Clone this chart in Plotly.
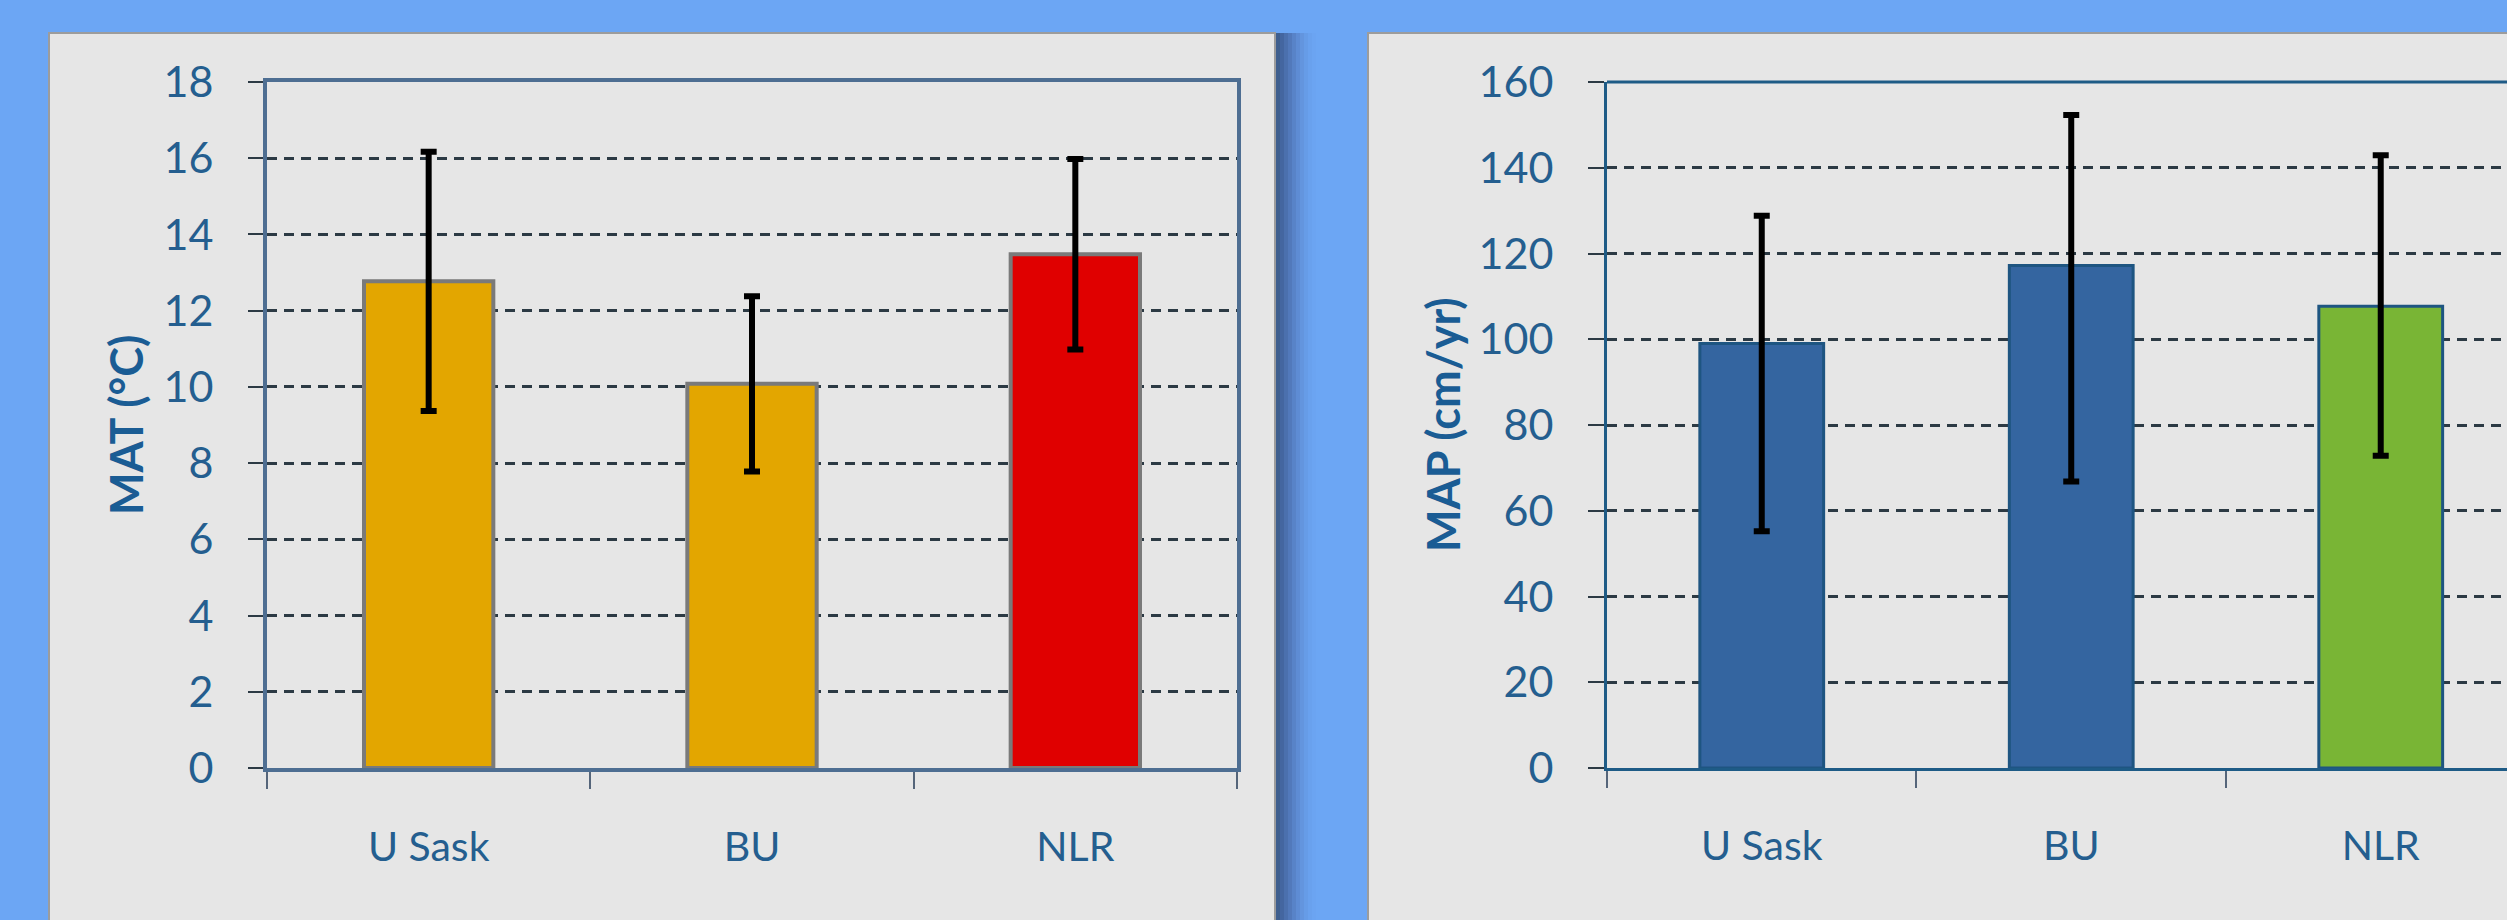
import plotly.graph_objects as go

# Site means with error ranges
sites = ["U Sask", "BU", "NLR"]
mat_mean = [12.77, 10.08, 13.48]
mat_err = [3.4, 2.3, 2.5]
map_mean = [99.0, 117.2, 107.7]
map_err_plus = [29.8, 35.1, 35.2]
map_err_minus = [43.8, 50.4, 34.9]

mat_colors = ["#E3A600", "#E3A600", "#E00000"]
map_colors = ["#3465A0", "#3465A0", "#79B535"]

W, H = 2507, 920
BG = "#6CA6F4"
PANEL = "#E6E6E6"
FONT = "Lato, Open Sans, sans-serif"
YTICK_FONT = dict(family=FONT, size=43, color="#245E8F")
XTICK_FONT = dict(family=FONT, size=41, color="#245E8F")
GRID = "#2C3A44"


def px_x(v):
    return v / W


def px_y(v):
    return 1 - v / H


fig = go.Figure()

fig.add_trace(go.Bar(
    x=sites, y=mat_mean, width=0.4,
    marker=dict(color=mat_colors, line=dict(color="#7A7A7A", width=4)),
    error_y=dict(type="data", array=mat_err, color="black", thickness=6, width=8),
    xaxis="x", yaxis="y", showlegend=False,
))
fig.add_trace(go.Bar(
    x=sites, y=map_mean, width=0.4,
    marker=dict(color=map_colors, line=dict(color="#1E5581", width=3)),
    error_y=dict(type="data", symmetric=False, array=map_err_plus,
                 arrayminus=map_err_minus, color="black", thickness=6, width=8),
    xaxis="x2", yaxis="y2", showlegend=False,
))

shapes = []
# panel shadow to the right of the first panel
shadow = ["#3E5E8E", "#4466A0", "#4B70AE", "#5279BB", "#5883C8", "#5E8CD4",
          "#6395DE", "#669CE7", "#69A1EE", "#6BA4F2"]
for i, c in enumerate(shadow):
    shapes.append(dict(type="rect", xref="paper", yref="paper", layer="below",
                       x0=px_x(1276 + 4 * i), x1=px_x(1280 + 4 * i),
                       y0=0, y1=px_y(33), fillcolor=c, line=dict(width=0)))
# chart panels
shapes.append(dict(type="rect", xref="paper", yref="paper", layer="below",
                   x0=px_x(49), x1=px_x(1275), y0=px_y(925), y1=px_y(33),
                   fillcolor=PANEL, line=dict(color="#9C9C9C", width=2)))
shapes.append(dict(type="rect", xref="paper", yref="paper", layer="below",
                   x0=px_x(1368), x1=px_x(2530), y0=px_y(925), y1=px_y(33),
                   fillcolor=PANEL, line=dict(color="#9C9C9C", width=2)))
# top border of the second plot, which runs off the right edge
shapes.append(dict(type="line", xref="paper", yref="paper", layer="above",
                   x0=px_x(1607), x1=1.0, y0=px_y(82), y1=px_y(82),
                   line=dict(color="#1E5B86", width=3)))

xcommon = dict(tickfont=XTICK_FONT, ticks="outside", fixedrange=True,
               automargin=False, tickson="boundaries", ticklen=17,
               tickwidth=2, tickcolor="#55657A", ticklabelstandoff=40,
               showgrid=False)
ycommon = dict(tickfont=YTICK_FONT, ticks="outside", fixedrange=True,
               automargin=False, tickwidth=2, tickcolor=GRID,
               showgrid=True, gridcolor=GRID, gridwidth=2.5,
               griddash="10px,7px", zeroline=False, ticklabelstandoff=26)

fig.update_layout(
    width=W, height=H,
    margin=dict(l=0, r=0, t=0, b=0, pad=0, autoexpand=False),
    paper_bgcolor=BG, plot_bgcolor="rgba(0,0,0,0)",
    shapes=shapes,
    xaxis=dict(domain=[px_x(267), px_x(1237)], range=[-0.5, 2.5],
               showline=True, linecolor="#4E6E92", linewidth=4, mirror=True,
               anchor="y", **xcommon),
    yaxis=dict(domain=[px_y(768), px_y(82)], range=[0, 18], dtick=2, ticklen=15,
               showline=True, linecolor="#4E6E92", linewidth=4, mirror=True,
               anchor="x", **ycommon),
    xaxis2=dict(domain=[px_x(1607), 1.0], range=[-0.5, 2.408],
                showline=True, linecolor="#1E5B86", linewidth=3, mirror=False,
                anchor="y2", **xcommon),
    yaxis2=dict(domain=[px_y(768), px_y(82)], range=[0, 160], dtick=20, ticklen=16,
                showline=True, linecolor="#1E5B86", linewidth=3, mirror=False,
                anchor="x2", **ycommon),
    annotations=[
        dict(text="<b>MAT (°C)</b>", xref="paper", yref="paper",
             x=px_x(126), y=px_y(425), xanchor="center", yanchor="middle",
             textangle=-90, showarrow=False,
             font=dict(family=FONT, size=45, color="#1A5C94")),
        dict(text="<b>MAP (cm/yr)</b>", xref="paper", yref="paper",
             x=px_x(1443), y=px_y(425), xanchor="center", yanchor="middle",
             textangle=-90, showarrow=False,
             font=dict(family=FONT, size=45, color="#1A5C94")),
    ],
)

fig.write_html("out.html")
